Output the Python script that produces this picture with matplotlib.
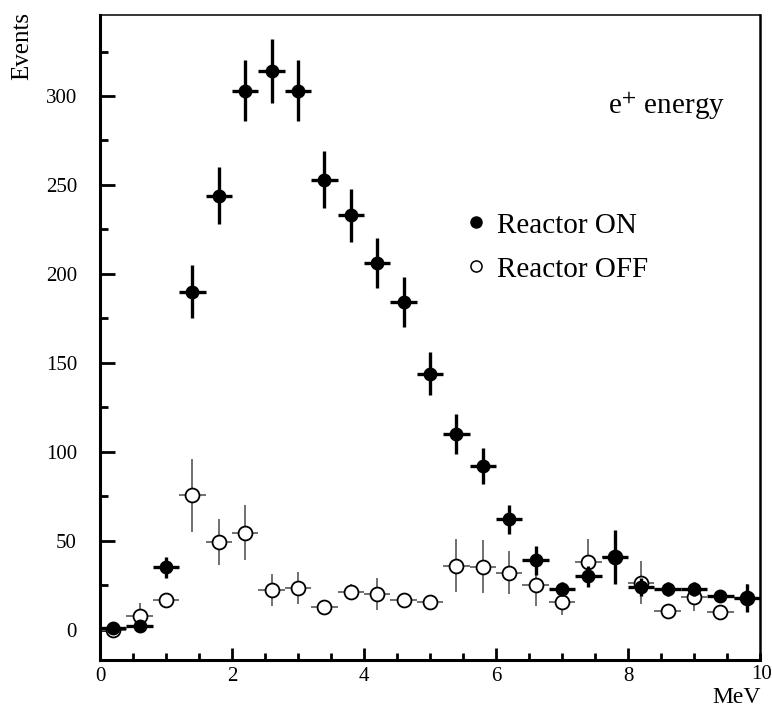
import matplotlib
matplotlib.use("Agg")
import matplotlib.pyplot as plt
import numpy as np
from matplotlib.lines import Line2D
from matplotlib.ticker import MultipleLocator

plt.rcParams["font.family"] = ["Liberation Serif", "DejaVu Serif"]
plt.rcParams["mathtext.fontset"] = "stix"

# bin centres (MeV), bin half width 0.2
energy = [0.2, 0.6, 1.0, 1.4, 1.8, 2.2, 2.6, 3.0, 3.4, 3.8, 4.2, 4.6, 5.0,
          5.4, 5.8, 6.2, 6.6, 7.0, 7.4, 7.8, 8.2, 8.6, 9.0, 9.4, 9.8]
half_bin = 0.2

# reactor ON
on_counts = [1, 2, 35, 190, 244, 303, 314, 303, 253, 233, 206, 184, 144,
             110, 92, 62, 39, 23, 30, 41, 24, 23, 23, 19, 18]
on_err = [1, 2, 6, 15, 16, 17, 18, 17, 16, 15, 14, 14, 12,
          11, 10, 8, 8, 4, 6, 15, 5, 4, 4, 3, 8]

# reactor OFF
off_counts = [0, 8, 16.5, 75.5, 49.5, 54.5, 22.5, 23.5, 13, 21, 20, 16.5, 15.5,
              36, 35.5, 32, 25, 15.5, 38, 41, 26.5, 10.5, 18.5, 10, 18]
off_err = [1, 7, 3, 20.5, 13, 15.5, 9, 9, 2, 4.5, 9, 2, 2,
           15, 15, 12, 11.5, 7, 13, 14, 12, 2, 8, 2, 8]

fig = plt.figure(figsize=(7.72, 7.09), dpi=100)
ax = fig.add_axes([0.1295, 0.0691, 0.855, 0.9097])

ax.errorbar(energy, off_counts, xerr=half_bin, yerr=off_err, fmt="o",
            ms=10, mfc="white", mec="black", mew=1.3,
            ecolor="#707070", elinewidth=1.4, capsize=0, zorder=2)
ax.errorbar(energy, on_counts, xerr=half_bin, yerr=on_err, fmt="o",
            ms=9, mfc="black", mec="black",
            ecolor="black", elinewidth=2.4, capsize=0, zorder=3)

ax.set_xlim(0, 10)
ax.set_ylim(-17, 345.5)
ax.xaxis.set_major_locator(MultipleLocator(2))
ax.xaxis.set_minor_locator(MultipleLocator(0.5))
ax.yaxis.set_major_locator(MultipleLocator(50))
ax.yaxis.set_minor_locator(MultipleLocator(25))
ax.tick_params(which="both", direction="in", top=False, right=False,
               labelsize=15, width=2)
ax.tick_params(axis="x", which="major", length=9, pad=5)
ax.tick_params(axis="x", which="minor", length=5)
ax.tick_params(axis="y", which="major", length=11, pad=16.5)
ax.tick_params(axis="y", which="minor", length=6)
ax.set_xticks([0, 2, 4, 6, 8])

ax.spines["left"].set_linewidth(2.2)
ax.spines["bottom"].set_linewidth(2.2)
ax.spines["right"].set_linewidth(1.8)
ax.spines["top"].set_linewidth(1.1)

fig.text(0.029, 0.935, "Events", fontsize=18, rotation=90,
         ha="center", va="center")
fig.text(0.985, 0.016, "MeV", fontsize=17, ha="right", va="center")
fig.text(0.9995, 0.049, "10", fontsize=15, ha="right", va="center")

ax.text(0.947, 0.858, "e$^{+}$ energy", transform=ax.transAxes,
        fontsize=21, ha="right", va="center")

handles = [
    Line2D([], [], marker="o", ls="none", ms=8, mfc="black", mec="black"),
    Line2D([], [], marker="o", ls="none", ms=8, mfc="white", mec="black", mew=1.1),
]
ax.legend(handles, ["Reactor ON", "Reactor OFF"], loc="upper left",
          bbox_to_anchor=(0.516, 0.735), frameon=False, fontsize=21,
          handlelength=0.6, handletextpad=0.45, labelspacing=0.6)

fig.savefig("out.png", dpi=100)
